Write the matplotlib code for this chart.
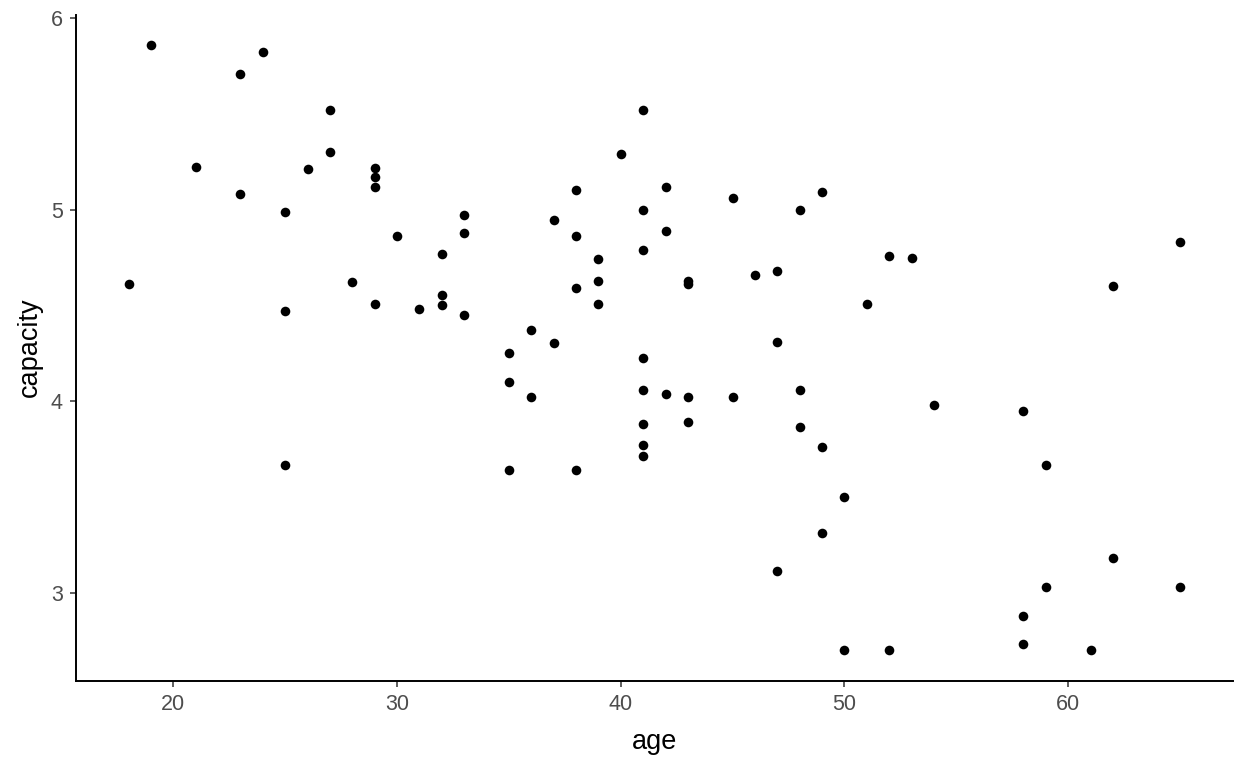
import matplotlib
matplotlib.use('Agg')
import matplotlib.pyplot as plt

# age vs capacity
age = [18, 19, 21, 23, 23, 24, 25, 25, 25, 26,
       27, 27, 28, 29, 29, 29, 29, 30, 31, 32,
       32, 32, 33, 33, 33, 35, 35, 35, 36, 36,
       37, 37, 38, 38, 38, 38, 39, 39, 39, 40,
       41, 41, 41, 41, 41, 41, 41, 41, 42, 42,
       42, 43, 43, 43, 43, 45, 45, 46, 47, 47,
       47, 48, 48, 48, 49, 49, 49, 50, 50, 51,
       52, 52, 53, 54, 58, 58, 58, 59, 59, 61,
       62, 62, 65, 65]
capacity = [4.61, 5.86, 5.22, 5.71, 5.08, 5.82, 4.99, 4.47, 3.67, 5.21,
            5.52, 5.30, 4.62, 5.215, 5.17, 5.12, 4.51, 4.86, 4.48, 4.77,
            4.555, 4.50, 4.97, 4.88, 4.45, 4.25, 4.10, 3.64, 4.37, 4.02,
            4.945, 4.305, 5.10, 4.86, 4.59, 3.64, 4.74, 4.63, 4.51, 5.29,
            5.52, 5.00, 4.79, 4.225, 4.06, 3.88, 3.77, 3.715, 5.12, 4.89,
            4.04, 4.63, 4.61, 4.02, 3.89, 5.06, 4.02, 4.66, 4.68, 4.31,
            3.115, 5.00, 4.06, 3.865, 5.09, 3.76, 3.31, 3.50, 2.70, 4.51,
            4.76, 2.70, 4.745, 3.98, 3.95, 2.88, 2.735, 3.67, 3.03, 2.70,
            4.60, 3.18, 4.83, 3.03]

xticks = [20, 30, 40, 50, 60]
yticks = [3, 4, 5, 6]

plt.rcParams['font.family'] = ['Liberation Sans', 'DejaVu Sans']

fig = plt.figure(figsize=(12.48, 7.68), dpi=100)
ax = fig.add_axes([0.0609, 0.1137, 0.9268, 0.8674])

ax.scatter(age, capacity, s=48, color='black', linewidths=0, zorder=3)

# ggplot-style 5% expansion
xr = max(age) - min(age)
yr = max(capacity) - min(capacity)
ax.set_xlim(min(age) - 0.05 * xr, max(age) + 0.05 * xr)
ax.set_ylim(min(capacity) - 0.05 * yr, max(capacity) + 0.05 * yr)

ax.set_xticks(xticks)
ax.set_yticks(yticks)
ax.tick_params(axis='both', length=4.5, width=1.1, color='#333333',
               labelsize=15.5, labelcolor='#4D4D4D', pad=5)

for side in ['top', 'right']:
    ax.spines[side].set_visible(False)
for side in ['left', 'bottom']:
    ax.spines[side].set_linewidth(1.4)
    ax.spines[side].set_color('black')

ax.set_xlabel('age', fontsize=19.5, color='black', labelpad=10)
ax.set_ylabel('capacity', fontsize=19.5, color='black', labelpad=6)

fig.savefig('out.png', dpi=100, facecolor='white')
